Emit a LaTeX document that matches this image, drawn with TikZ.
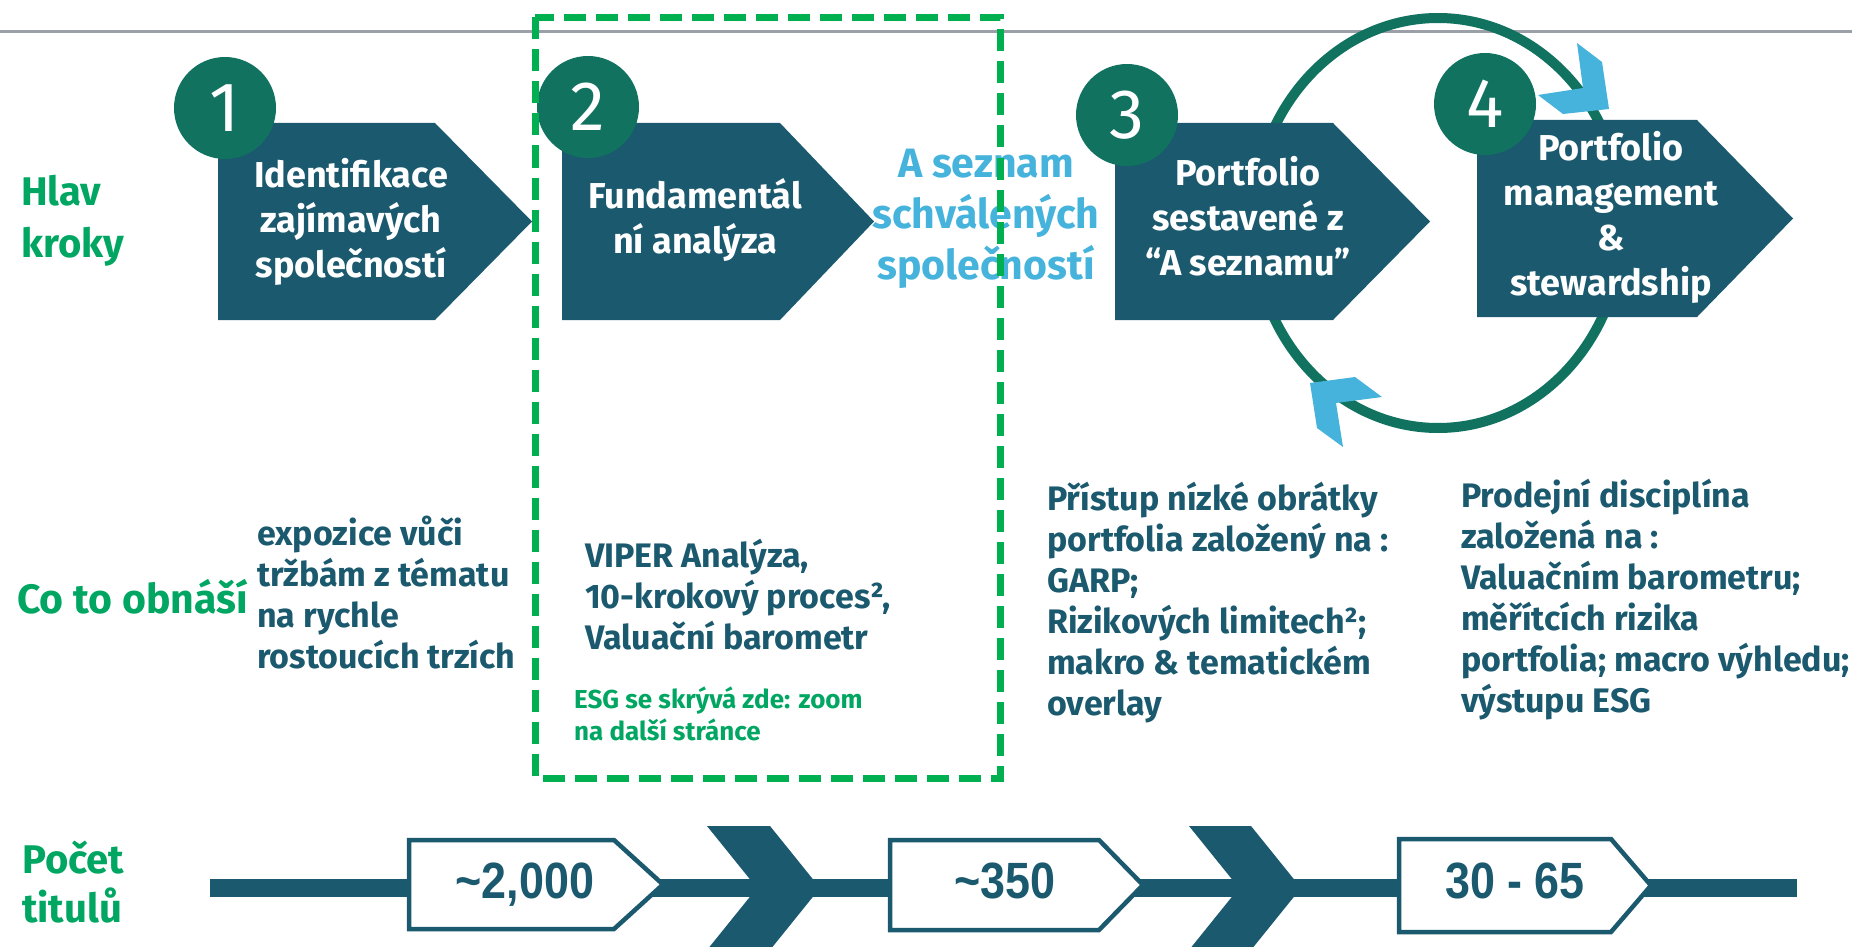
\documentclass[tikz,border=0pt]{standalone}
\usepackage{fontspec}
\setmainfont{Fira Sans}
\newfontfamily\numfont{Liberation Sans}[FakeStretch=0.88]
\tikzset{>=latex}

\definecolor{boxblue}{HTML}{1A596E}
\definecolor{discgreen}{HTML}{117260}
\definecolor{labelgreen}{HTML}{00A661}
\definecolor{dashgreen}{HTML}{00B050}
\definecolor{skyblue}{HTML}{45B3DB}
\definecolor{rulegray}{HTML}{9BA0A8}

% pentagon arrow: [style] {left}{top}{body width}{height}{tip depth}
\newcommand{\arrowbox}[6][]{%
  \path[#1] (#2,#3) -- ++(#4,0) -- ++(#6,#5/2) -- ++(-#6,#5/2) -- ++(-#4,0) -- cycle;}

\tikzset{
  stepbox/.style={fill=boxblue},
  countbox/.style={draw=boxblue, fill=white, line width=4.5pt},
  numdisc/.style={circle, fill=discgreen, text=white, minimum size=102pt, inner sep=0pt, font=\fontsize{70}{70}\selectfont},
  boxtext/.style={text=white, align=center, anchor=north, inner sep=0pt, font=\fontsize{36}{45}\selectfont\bfseries},
  sidelabel/.style={text=labelgreen, align=left, anchor=north west, inner sep=0pt, font=\fontsize{40}{52}\selectfont\bfseries},
  bodytext/.style={text=boxblue, align=left, anchor=north west, inner sep=0pt, font=\fontsize{34}{41}\selectfont\bfseries},
  countnum/.style={text=boxblue, anchor=base, inner sep=0pt, font=\numfont\fontsize{51}{51}\selectfont\bfseries},
  ringline/.style={draw=discgreen, line width=10pt},
  ringtip/.style={fill=skyblue},
  bigchevron/.style={fill=boxblue},
}

\begin{document}
\begin{tikzpicture}[x=1pt,y=-1pt]
  \useasboundingbox (0,0) rectangle (1852,947);
  % top rule
  \draw[rulegray, line width=3pt] (0,32) -- (1852,32);
  % cycle ring behind steps 3 and 4
  \draw[ringline] (1438,223) ellipse [x radius=185, y radius=205];

  % step arrows
  \arrowbox[stepbox]{218}{123}{217}{197}{97}
  \arrowbox[stepbox]{562}{123}{218}{197}{94}
  \arrowbox[stepbox]{1115}{123}{218}{197}{97}
  \arrowbox[stepbox]{1477}{120}{220}{197}{96}

  % numbered discs
  \node[numdisc] (n1) at (225,108) {1};
  \node[numdisc] (n2) at (588,107) {2};
  \node[numdisc] (n3) at (1127,115) {3};
  \node[numdisc] (n4) at (1485,104) {4};

  % ring arrow tips
  \fill[ringtip] (1577,43) -- (1602,62) -- (1609,109) -- (1563,114) -- (1538,95) -- (1583,88) -- cycle;
  \fill[ringtip] (1310,383) -- (1355,377) -- (1382,397) -- (1336,403) -- (1343,447) -- (1317,428) -- cycle;

  % row labels
  \node[sidelabel] (hlav) at (21,168.6) {\strut Hlav\\kroky};
  \node[sidelabel, anchor=base west, font=\fontsize{41}{52}\selectfont\bfseries] (obnasi) at (17,613) {Co to obnáší};
  \node[sidelabel, font=\fontsize{40}{45}\selectfont\bfseries] (pocet) at (22,840.5) {\strut Počet\\titulů};

  % step texts
  \node[boxtext] (s1) at (351,155.5) {\strut Identifikace\\zajímavých\\společností};
  \node[boxtext] (s2) at (695,176.5) {\strut Fundamentál\\ní analýza};
  \node[boxtext] (s3) at (1248,153.5) {\strut Portfolio\\sestavené z\\“A seznamu”};
  \node[boxtext] (s4) at (1611,128.5) {\strut Portfolio\\management\\\&\\stewardship};
  \node[boxtext, text=skyblue, font=\fontsize{41}{51}\selectfont\bfseries] (alist) at (986,141.3) {\strut A seznam\\schválených\\společností};

  % descriptions
  \node[bodytext] (d1) at (257,516.3) {\strut expozice vůči\\tržbám z tématu\\na rychle\\rostoucích trzích};
  \node[bodytext] (d2) at (585,538.3) {\strut VIPER Analýza,\\10-krokový proces²,\\Valuační barometr};
  \node[bodytext, text=labelgreen, font=\fontsize{26}{32}\selectfont\bfseries] (esg) at (574,685.6) {\strut ESG se skrývá zde: zoom\\na další stránce};
  \node[bodytext] (d3) at (1047,481.3) {\strut Přístup nízké obrátky\\portfolia založený na :\\GARP;\\Rizikových limitech²;\\makro \& tematickém\\overlay};
  \node[bodytext] (d4) at (1461,478.3) {\strut Prodejní disciplína\\založená na :\\Valuačním barometru;\\měřítcích rizika\\portfolia; macro výhledu;\\výstupu ESG};

  % bottom flow
  \coordinate (barL) at (210,888);
  \coordinate (barR) at (1797,888);
  \draw[boxblue, line width=18pt] (barL) -- (barR);
  \arrowbox[countbox]{409}{840}{205}{89}{49}
  \arrowbox[countbox]{890}{840}{209}{90}{44}
  \arrowbox[countbox]{1399}{839}{212}{93}{40}
  \fill[bigchevron] (707,826) -- (770,826) -- (820,888) -- (770,950) -- (707,950) -- (757,888) -- cycle;
  \fill[bigchevron] (1189,826) -- (1251,826) -- (1301,888) -- (1251,950) -- (1189,950) -- (1239,888) -- cycle;
  \node[countnum] (c1) at (525,898) {\textasciitilde2,000};
  \node[countnum] (c2) at (1005,898) {\textasciitilde350};
  \node[countnum] (c3) at (1515,898) {30 - 65};

  % dashed frame round step 2
  \draw[dashgreen, line width=7pt, dash pattern=on 22pt off 10pt] (535,17.5) rectangle (1000,778);
\end{tikzpicture}
\end{document}
